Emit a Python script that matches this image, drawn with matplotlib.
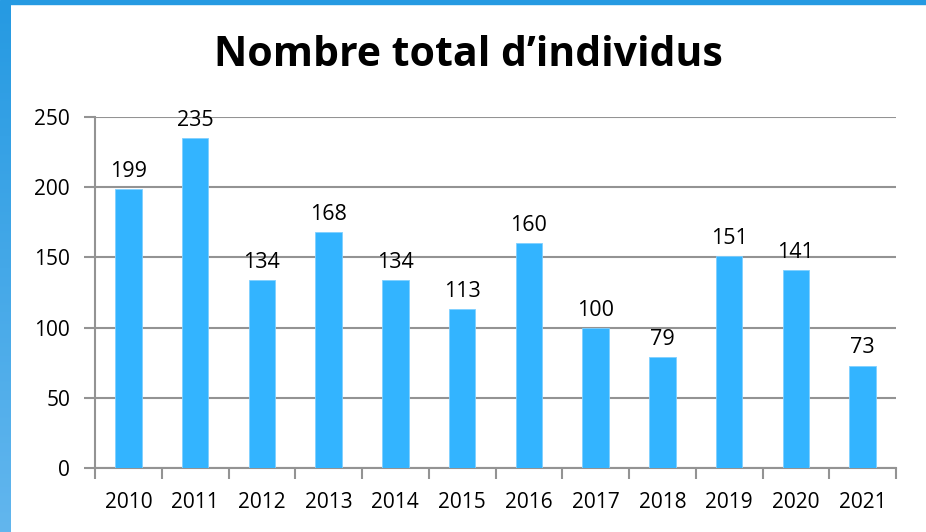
import numpy as np
import matplotlib
matplotlib.use('Agg')
from matplotlib import pyplot as plt
from matplotlib.patches import Rectangle
from matplotlib.colors import LinearSegmentedColormap

years = ['2010', '2011', '2012', '2013', '2014', '2015',
         '2016', '2017', '2018', '2019', '2020', '2021']
individus = [199, 235, 134, 168, 134, 113, 160, 100, 79, 151, 141, 73]

plt.rcParams['font.family'] = ['Open Sans', 'DejaVu Sans']

W, H = 926, 532
fig = plt.figure(figsize=(W / 100, H / 100), dpi=100)

# bordure bleue (haut + degrade a gauche)
fig.patches.append(Rectangle((0, 1 - 4 / H), 1, 4 / H, transform=fig.transFigure,
                             color='#269ae2', zorder=0))
grad = fig.add_axes([0, 0, 11 / W, 1 - 4 / H])
g = np.linspace(0, 1, 256).reshape(-1, 1)
cmap = LinearSegmentedColormap.from_list('b', ['#269ae2', '#62b6ee'])
grad.imshow(g, aspect='auto', cmap=cmap)
grad.axis('off')

ax = fig.add_axes([95 / W, 1 - 468 / H, (896 - 95) / W, (468 - 117) / H])
x = np.arange(len(years))
ax.bar(x, individus, width=0.4, color='#33b4ff', edgecolor='#7fd0ff',
       linewidth=0.6, zorder=3)

for xi, v in zip(x, individus):
    ax.text(xi, v + 5, str(v), ha='center', va='bottom', fontsize=15.5, color='black')

ax.set_xlim(-0.5, len(years) - 0.5)
ax.set_ylim(0, 250)
ax.set_yticks([0, 50, 100, 150, 200, 250])
ax.yaxis.grid(True, color='#939393', linewidth=1.5, zorder=0)
ax.set_axisbelow(True)

ax.set_xticks(x)
ax.set_xticklabels(years, fontsize=15)
ax.set_xticks(np.arange(len(years) + 1) - 0.5, minor=True)
ax.tick_params(axis='x', which='major', length=0, pad=17)
ax.tick_params(axis='x', which='minor', length=8, width=1.5, color='#939393')
ax.tick_params(axis='y', length=8, width=1.5, color='#939393', labelsize=15, pad=10)

for s in ['top', 'right']:
    ax.spines[s].set_visible(False)
for s in ['left', 'bottom']:
    ax.spines[s].set_color('#939393')
    ax.spines[s].set_linewidth(1.5)

fig.text(468 / W, 1 - 55 / H, 'Nombre total d\u2019individus', ha='center', va='center',
         fontsize=29.5, fontweight='bold')

fig.savefig('out.png', dpi=100)
